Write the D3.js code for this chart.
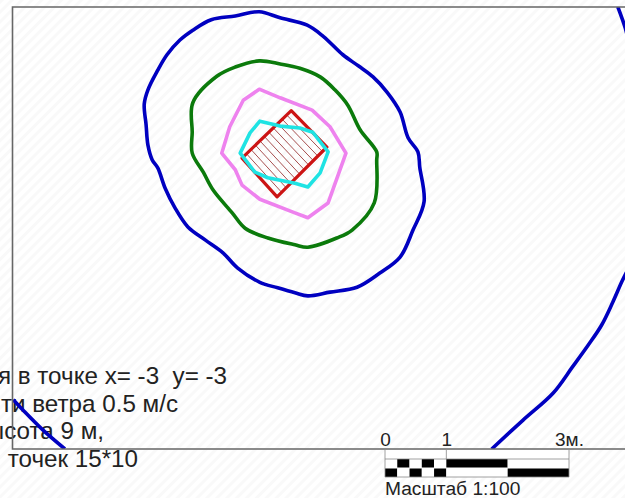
<!DOCTYPE html>
<html>
<head>
<meta charset="utf-8">
<script src="https://d3js.org/d3.v7.min.js"></script>
<style>
  html, body { margin: 0; padding: 0; background: #fff; }
  svg { display: block; }
  text { font-family: "Liberation Sans", Arial, sans-serif; fill: #222; }
</style>
</head>
<body>
<div id="chart"></div>
<script>
// map coordinates in metres
const blueLine = [[-0.50,2.33],[-0.89,2.26],[-1.28,2.20],[-1.58,2.03],[-1.79,1.87],[-2.00,1.63],[-2.15,1.38],[-2.31,1.06],[-2.37,0.83],[-2.34,0.49],[-2.31,0.16],[-2.24,-0.08],[-2.15,-0.21],[-2.03,-0.54],[-1.87,-0.86],[-1.66,-1.17],[-1.38,-1.38],[-1.09,-1.59],[-0.85,-1.84],[-0.49,-2.07],[-0.20,-2.16],[0.08,-2.24],[0.29,-2.29],[0.65,-2.23],[1.09,-2.15],[1.46,-1.92],[1.79,-1.66],[2.00,-1.22],[2.18,-0.76],[2.11,-0.20],[2.08,0.05],[1.92,0.28],[1.79,0.70],[1.58,1.02],[1.35,1.27],[1.11,1.45],[0.86,1.63],[0.54,1.93],[0.28,2.11],[-0.16,2.23]];
const greenLine = [[-0.50,1.53],[-0.89,1.43],[-1.19,1.28],[-1.58,0.85],[-1.59,0.37],[-1.59,0.03],[-1.41,-0.28],[-1.25,-0.57],[-0.94,-0.94],[-0.73,-1.19],[-0.36,-1.35],[0.08,-1.46],[0.29,-1.50],[0.76,-1.35],[1.01,-1.22],[1.37,-0.78],[1.41,-0.08],[1.41,0.05],[1.14,0.41],[0.94,0.81],[0.73,1.06],[0.49,1.27],[0.16,1.41],[-0.16,1.48]];
const violetLine = [[-0.50,1.07],[-0.76,0.89],[-0.98,0.46],[-1.11,0.03],[-0.89,-0.24],[-0.78,-0.49],[-0.49,-0.72],[0.08,-0.94],[0.29,-1.02],[0.62,-0.78],[0.91,0.03],[0.65,0.46],[0.36,0.73],[-0.16,0.93]];
const cyanLine = [[-0.49,0.55],[-0.65,0.36],[-0.81,0.03],[-0.57,-0.28],[-0.36,-0.37],[0.08,-0.46],[0.29,-0.52],[0.49,-0.29],[0.62,0.05],[0.37,0.37],[0.16,0.44],[-0.16,0.47]];
const building = [[0.02,0.72],[0.60,0.13],[-0.21,-0.68],[-0.78,-0.05]];
const hatchCount = 11;
const farLineLow = [[5.56,-1.74],[5.41,-2.03],[5.25,-2.39],[5.07,-2.76],[4.85,-3.09],[4.59,-3.45],[4.28,-3.87],[3.79,-4.31],[3.28,-4.78]];
const farLineTop = [[5.33,2.41],[5.45,2.07],[5.50,1.87]];
const farLineLeft = [[-4.50,-3.98],[-4.34,-4.15],[-4.02,-4.47],[-3.66,-4.78]];

const noteLines = ["я в точке x= -3  y= -3", "ти ветра 0.5 м/с", "ысота 9 м,", "точек 15*10"];
const noteEnd = [227, 178, 104, 138];

const barEdges = [0, 0.2, 0.4, 0.6, 0.8, 1, 2, 3];
const barRow1 = [0, 1, 0, 1, 0, 1, 0];
const barRow2 = [1, 0, 1, 0, 1, 0, 1];
const barTicks = [0, 1, 3];
const barTickLabels = ["0", "1", "3м."];

const width = 631, height = 498;
const frame = {left: 12.5, right: 625, top: 7, bottom: 449};
const pxPerMetre = 61.5;

const x = d3.scaleLinear()
  .domain([(frame.left - 290) / pxPerMetre, (frame.right - 290) / pxPerMetre])
  .range([frame.left, frame.right]);
const y = d3.scaleLinear()
  .domain([(155 - frame.top) / pxPerMetre, (155 - frame.bottom) / pxPerMetre])
  .range([frame.top, frame.bottom]);
const barX = d3.scaleLinear().domain([0, 3]).range([385, 569]);

const svg = d3.select('#chart').append('svg')
  .attr('width', width)
  .attr('height', height);

const defs = svg.append('defs');
// faint diagonal scan texture of the original
const texture = defs.append('pattern')
  .attr('id', 'texture')
  .attr('width', 7).attr('height', 7)
  .attr('patternUnits', 'userSpaceOnUse')
  .attr('patternTransform', 'rotate(45)');
texture.append('rect').attr('width', 7).attr('height', 7).attr('fill', '#fff');
texture.append('rect').attr('width', 3).attr('height', 7).attr('fill', '#f9f9f9');
defs.append('clipPath').attr('id', 'map')
  .append('rect')
  .attr('x', frame.left).attr('y', frame.top)
  .attr('width', frame.right - frame.left)
  .attr('height', frame.bottom - frame.top);

svg.append('rect')
  .attr('width', frame.right).attr('height', height)
  .attr('fill', 'url(#texture)');

// note text sits under the map lines
svg.append('g').selectAll('text')
  .data(noteLines)
  .join('text')
    .attr('x', (d, i) => noteEnd[i])
    .attr('y', (d, i) => 384 + i * 27.7)
    .attr('text-anchor', 'end')
    .attr('font-size', 24.2)
    .style('white-space', 'pre')
    .text(d => d);

const map = svg.append('g').attr('clip-path', 'url(#map)');

const drawContour = (points, color, closed, sw, smooth) => {
  const curve = smooth
    ? (closed ? d3.curveCatmullRomClosed : d3.curveCatmullRom)
    : (closed ? d3.curveLinearClosed : d3.curveLinear);
  const line = d3.line().x(d => x(d[0])).y(d => y(d[1])).curve(curve);
  map.append('path')
    .attr('d', line(points))
    .attr('fill', 'none')
    .attr('stroke', color)
    .attr('stroke-width', sw)
    .attr('stroke-linejoin', 'round');
};

// hatching between the two short sides of the building
const [a, b, c, d] = building;
map.append('g').selectAll('line')
  .data(d3.range(1, hatchCount))
  .join('line')
    .attr('x1', i => x(a[0] + (d[0] - a[0]) * i / hatchCount))
    .attr('y1', i => y(a[1] + (d[1] - a[1]) * i / hatchCount))
    .attr('x2', i => x(b[0] + (c[0] - b[0]) * i / hatchCount))
    .attr('y2', i => y(b[1] + (c[1] - b[1]) * i / hatchCount))
    .attr('stroke', '#a85050')
    .attr('stroke-width', 1);

drawContour(building, '#cc1414', true, 3.2, false);
drawContour(violetLine, '#ee82ee', true, 3.6, false);
drawContour(cyanLine, '#1fe3e3', true, 3.6, false);
drawContour(greenLine, '#0b7a0b', true, 3.6, true);
drawContour(blueLine, '#0000c0', true, 3.6, true);
drawContour(farLineLow, '#0000c0', false, 3.6, true);
drawContour(farLineTop, '#0000c0', false, 3.6, true);
drawContour(farLineLeft, '#0000c0', false, 3.6, true);

// frame: no right edge in the picture
svg.append('path')
  .attr('d', `M${frame.right},${frame.top}H${frame.left}V${frame.bottom}H${frame.right}`)
  .attr('fill', 'none')
  .attr('stroke', '#666')
  .attr('stroke-width', 1.6);

// scale bar
const bar = svg.append('g');
bar.append('rect')
  .attr('x', barX(0)).attr('y', 450)
  .attr('width', barX(3) - barX(0)).attr('height', 27)
  .attr('fill', '#fff');

const drawRow = (row, top, h) => {
  bar.append('g').selectAll('rect')
    .data(row)
    .join('rect')
      .attr('x', (v, i) => barX(barEdges[i]))
      .attr('y', top)
      .attr('width', (v, i) => barX(barEdges[i + 1]) - barX(barEdges[i]))
      .attr('height', h)
      .attr('fill', v => v ? '#000' : '#fff');
};
drawRow(barRow1, 459, 8.5);
drawRow(barRow2, 468.5, 8.5);

bar.append('path')
  .attr('d', `M${barX(0)},450V477H${barX(3)}V450M${barX(0)},459H${barX(3)}M${barX(1)},450V459`)
  .attr('fill', 'none')
  .attr('stroke', '#888')
  .attr('stroke-width', 0.8);

const barAxis = d3.axisTop(barX)
  .tickValues(barTicks)
  .tickFormat((v, i) => barTickLabels[i])
  .tickSize(0)
  .tickPadding(3);
const axisG = svg.append('g').attr('transform', 'translate(0,449)').call(barAxis);
axisG.select('.domain').remove();
axisG.selectAll('text')
  .attr('font-family', '"Liberation Sans", Arial, sans-serif')
  .attr('font-size', 19)
  .attr('fill', '#222');

svg.append('text')
  .attr('x', 385).attr('y', 495)
  .attr('font-size', 19.2)
  .text('Масштаб 1:100');
</script>
</body>
</html>
